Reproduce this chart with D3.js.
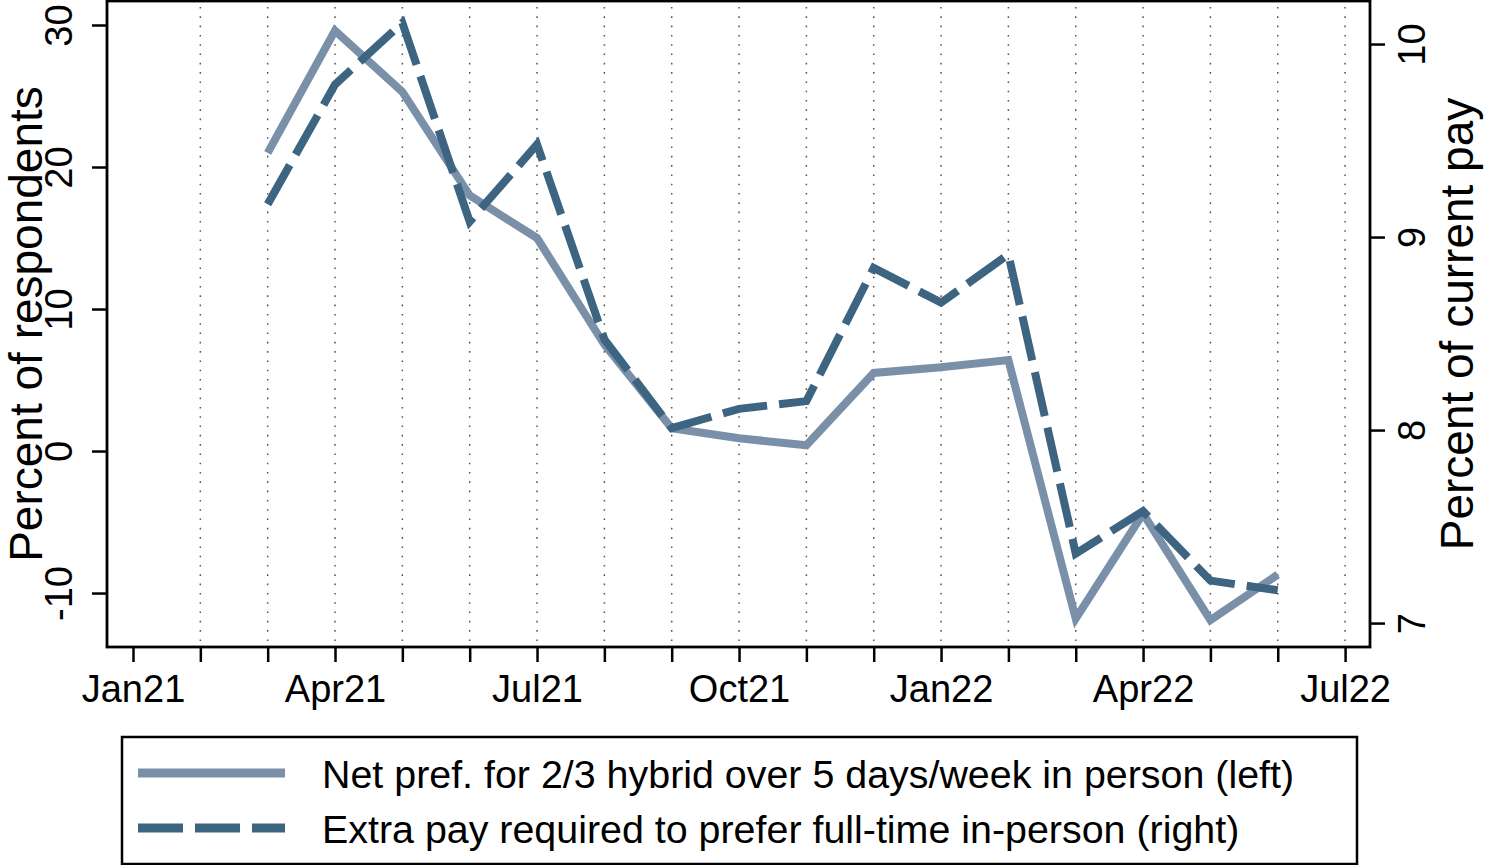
<!DOCTYPE html>
<html>
<head>
<meta charset="utf-8">
<script src="https://cdn.jsdelivr.net/npm/d3@7"></script>
<style>
  body { margin: 0; background: #fff; }
  svg { display: block; font-family: "Liberation Sans", Arial, Helvetica, sans-serif; }
</style>
</head>
<body>
<div id="chart"></div>
<script>
// month index (0 = Jan21) for each survey wave
var months = [2, 3, 4, 5, 6, 7, 8, 9, 10, 11, 12, 13, 14, 15, 16, 17];
// net preference for 2/3 hybrid over 5 days in person (left axis)
var hybridPref = [21.0, 29.6, 25.3, 18.0, 15.0, 7.5, 1.6, 0.9, 0.4, 5.5, 5.9, 6.4, -11.8, -4.4, -11.9, -8.7];
// extra pay required to prefer full-time in person (right axis)
var extraPay = [9.17, 9.79, 10.11, 9.08, 9.48, 8.47, 8.01, 8.11, 8.15, 8.84, 8.66, 8.91, 7.36, 7.58, 7.22, 7.17];

var xTickMonths = [0, 3, 6, 9, 12, 15, 18];
var xTickLabels = ["Jan21", "Apr21", "Jul21", "Oct21", "Jan22", "Apr22", "Jul22"];
var leftTicks = [-10, 0, 10, 20, 30];
var rightTicks = [7, 8, 9, 10];

var seriesNames = [
  "Net pref. for 2/3 hybrid over 5 days/week in person (left)",
  "Extra pay required to prefer full-time in-person (right)"
];

function drawChart() {
  var W = 1486, H = 865;
  var plot = {left: 107, right: 1370, top: 1, bottom: 647};
  var colSolid = "#7a90a8", colDash = "#3d6480";

  var svg = d3.select("#chart").append("svg")
      .attr("width", W)
      .attr("height", H);

  var x = d3.scaleLinear().domain([-0.386, 18.37]).range([plot.left, plot.right]);
  var yL = d3.scaleLinear().domain([-13.80, 31.69]).range([plot.bottom, plot.top]);
  var yR = d3.scaleLinear().domain([6.876, 10.223]).range([plot.bottom, plot.top]);

  // dotted monthly grid
  svg.append("g")
    .selectAll("line")
    .data(d3.range(1, 19))
    .enter().append("line")
      .attr("x1", function(d) { return x(d); })
      .attr("x2", function(d) { return x(d); })
      .attr("y1", plot.top + 6)
      .attr("y2", plot.bottom - 2)
      .attr("stroke", "#555")
      .attr("stroke-width", 1.5)
      .attr("stroke-dasharray", "1.6,7.7");

  // axes
  var xAxis = svg.append("g")
      .attr("transform", "translate(0," + plot.bottom + ")")
      .call(d3.axisBottom(x).tickValues(d3.range(0, 19)).tickSize(15).tickFormat(function(d) {
        var i = xTickMonths.indexOf(d);
        return i >= 0 ? xTickLabels[i] : "";
      }));
  xAxis.selectAll("text").attr("font-size", 38).attr("dy", 0).attr("y", 55).attr("fill", "#000");

  var plainNum = function(d) { return String(d); };

  var lAxis = svg.append("g")
      .attr("transform", "translate(" + plot.left + ",0)")
      .call(d3.axisLeft(yL).tickValues(leftTicks).tickSize(15).tickFormat(plainNum));
  lAxis.selectAll("text")
      .attr("font-size", 38).attr("fill", "#000")
      .attr("x", 0).attr("dy", 0)
      .attr("text-anchor", "middle")
      .attr("transform", "translate(-35,0) rotate(-90)");

  var rAxis = svg.append("g")
      .attr("transform", "translate(" + plot.right + ",0)")
      .call(d3.axisRight(yR).tickValues(rightTicks).tickSize(15).tickFormat(plainNum));
  rAxis.selectAll("text")
      .attr("font-size", 38).attr("fill", "#000")
      .attr("x", 0).attr("dy", 0)
      .attr("text-anchor", "middle")
      .attr("transform", "translate(55,0) rotate(-90)");

  svg.selectAll(".domain").remove();
  svg.selectAll(".tick line").attr("stroke", "#000").attr("stroke-width", 2.5);

  // plot frame
  svg.append("rect")
    .attr("x", plot.left).attr("y", plot.top)
    .attr("width", plot.right - plot.left).attr("height", plot.bottom - plot.top)
    .attr("fill", "none").attr("stroke", "#000").attr("stroke-width", 2.8);

  // axis titles
  var midY = (plot.top + plot.bottom) / 2;
  svg.append("text")
    .attr("transform", "translate(42," + midY + ") rotate(-90)")
    .attr("text-anchor", "middle")
    .attr("font-size", 46)
    .text("Percent of respondents");
  svg.append("text")
    .attr("transform", "translate(1473," + midY + ") rotate(-90)")
    .attr("text-anchor", "middle")
    .attr("font-size", 46)
    .text("Percent of current pay");

  // lines
  var lineL = d3.line().x(function(d, i) { return x(months[i]); }).y(function(d) { return yL(d); });
  var lineR = d3.line().x(function(d, i) { return x(months[i]); }).y(function(d) { return yR(d); });

  svg.append("path")
    .datum(hybridPref)
    .attr("d", lineL)
    .attr("fill", "none")
    .attr("stroke", colSolid)
    .attr("stroke-width", 8);

  svg.append("path")
    .datum(extraPay)
    .attr("d", lineR)
    .attr("fill", "none")
    .attr("stroke", colDash)
    .attr("stroke-width", 8)
    .attr("stroke-dasharray", "45,12");

  // legend
  var leg = svg.append("g");
  leg.append("rect")
    .attr("x", 122).attr("y", 737).attr("width", 1235).attr("height", 127)
    .attr("fill", "#fff").attr("stroke", "#000").attr("stroke-width", 2.5);
  var keys = [{y: 773, color: colSolid, dash: null}, {y: 828, color: colDash, dash: "45,12"}];
  keys.forEach(function(k, i) {
    leg.append("line")
      .attr("x1", 138).attr("x2", 285).attr("y1", k.y).attr("y2", k.y)
      .attr("stroke", k.color).attr("stroke-width", 9)
      .attr("stroke-dasharray", k.dash);
    leg.append("text")
      .attr("x", 322).attr("y", k.y + 15)
      .attr("font-size", 39.4)
      .text(seriesNames[i]);
  });
}

document.addEventListener("DOMContentLoaded", function() {
  drawChart();
});
</script>
</body>
</html>
